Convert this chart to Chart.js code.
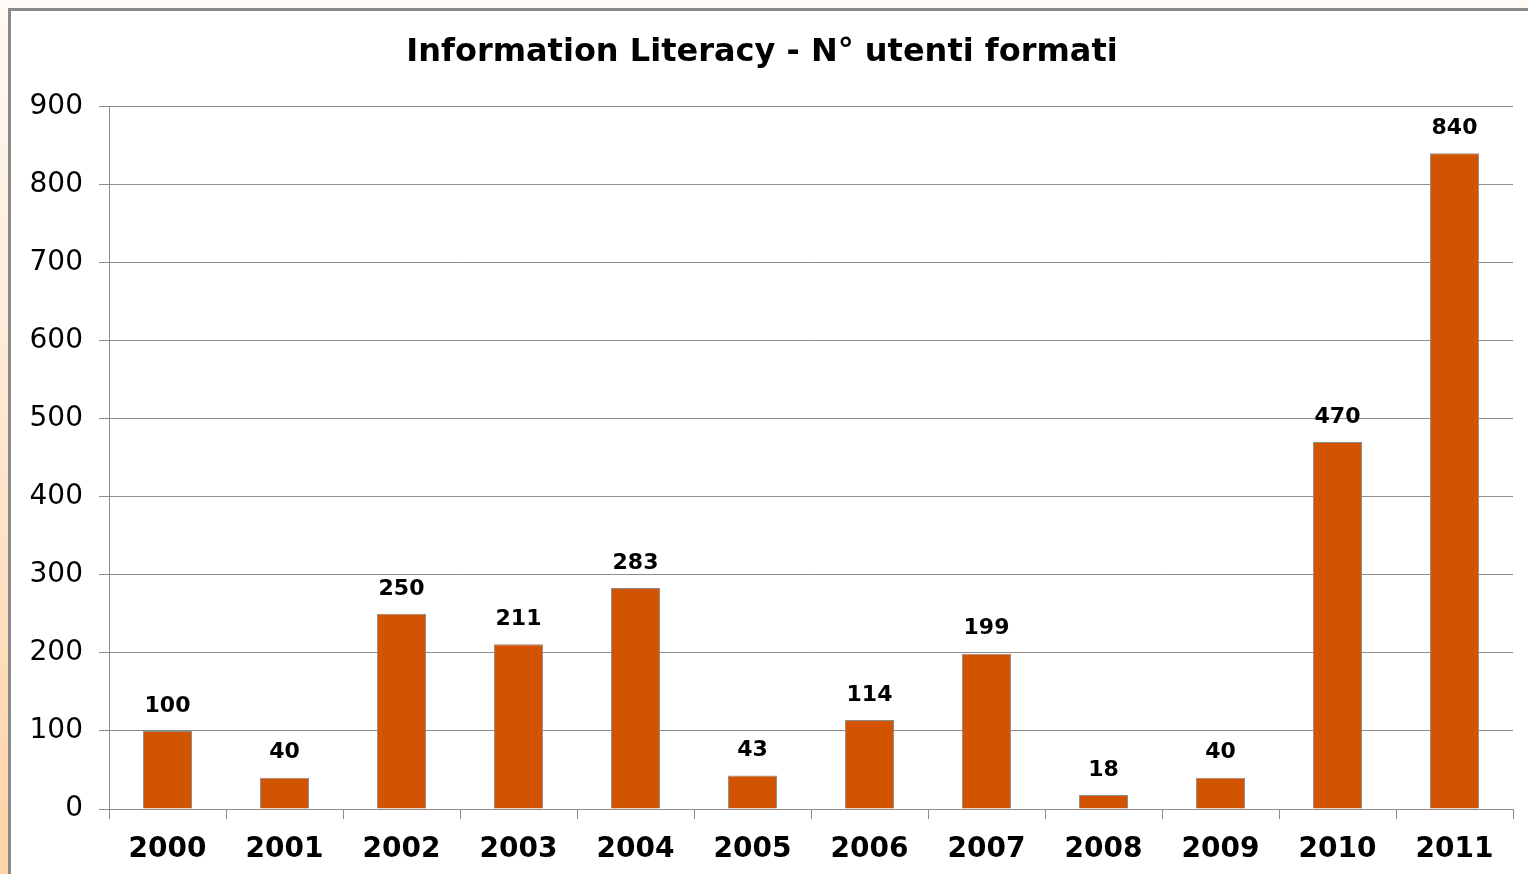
<!DOCTYPE html>
<html>
<head>
<meta charset="utf-8">
<script src="https://cdn.jsdelivr.net/npm/chart.js@4.4.1/dist/chart.umd.min.js"></script>
<style>
    html, body { margin: 0; padding: 0; }
    body {
        width: 1528px; height: 874px; overflow: hidden;
        background: linear-gradient(to bottom, #fffaf5 0%, #ffe6cf 50%, #ffd3a6 100%);
    }
    #box {
        position: absolute; left: 8px; top: 8px; width: 1520px; height: 866px;
        border-left: 3px solid #8a8a8a; border-top: 3px solid #8a8a8a;
        background: #fff;
    }
</style>
</head>
<body>
<div id="box"><canvas id="literacy" width="1517" height="863"></canvas></div>
<script>
const years = ['2000', '2001', '2002', '2003', '2004', '2005', '2006', '2007', '2008', '2009', '2010', '2011'];
const trainedUsers = [100, 40, 250, 211, 283, 43, 114, 199, 18, 40, 470, 840];
const yTicks = [0, 100, 200, 300, 400, 500, 600, 700, 800, 900];

const fontFamily = '"DejaVu Sans", Verdana, sans-serif';

// scrive il valore sopra ogni barra
const valueLabels = {
    id: 'valueLabels',
    afterDatasetsDraw(chart) {
        const ctx = chart.ctx;
        const meta = chart.getDatasetMeta(0);
        ctx.save();
        ctx.font = 'bold 22px ' + fontFamily;
        ctx.fillStyle = '#000';
        ctx.textAlign = 'center';
        ctx.textBaseline = 'middle';
        meta.data.forEach((bar, i) => {
            ctx.fillText(trainedUsers[i], bar.x, bar.y - 25);
        });
        ctx.restore();
    }
};

const ctx = document.getElementById('literacy').getContext('2d');
new Chart(ctx, {
    type: 'bar',
    data: {
        labels: years,
        datasets: [{
            data: trainedUsers,
            backgroundColor: '#d35400',
            borderColor: '#8c8c8c',
            borderWidth: 1,
            barPercentage: 0.42,
            categoryPercentage: 1
        }]
    },
    options: {
        responsive: false,
        animation: false,
        layout: { padding: { left: 0, right: 15, top: 0, bottom: 0 } },
        plugins: {
            legend: { display: false },
            tooltip: { enabled: false },
            title: {
                display: true,
                text: 'Information Literacy - N° utenti formati',
                color: '#000',
                font: { family: fontFamily, size: 32, weight: 'bold' },
                padding: { top: 22, bottom: 35 }
            }
        },
        scales: {
            x: {
                grid: {
                    offset: true,
                    drawOnChartArea: false,
                    drawTicks: true,
                    tickLength: 10,
                    color: '#8c8c8c'
                },
                border: { color: '#8c8c8c' },
                ticks: {
                    color: '#000',
                    font: { family: fontFamily, size: 28, weight: 'bold' },
                    padding: 14,
                    maxRotation: 0
                },
                afterFit(scale) { scale.height = 65; }
            },
            y: {
                min: 0,
                max: 900,
                afterBuildTicks(scale) { scale.ticks = yTicks.map(v => ({ value: v })); },
                grid: { color: '#8c8c8c', tickLength: 10 },
                border: { color: '#8c8c8c' },
                ticks: {
                    color: '#000',
                    font: { family: fontFamily, size: 28 },
                    padding: 16
                },
                afterFit(scale) { scale.width = 98; }
            }
        }
    },
    plugins: [valueLabels]
});
</script>
</body>
</html>
